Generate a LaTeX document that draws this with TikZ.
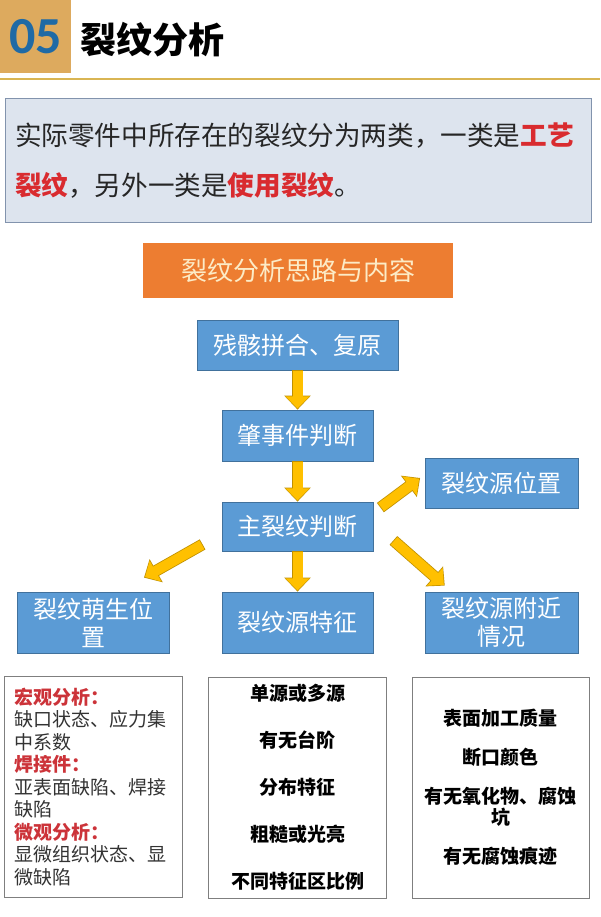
\documentclass[tikz,border=0pt]{standalone}
\usepackage{fontspec}
\setmainfont{Noto Sans CJK SC}
\newfontfamily\numfont{Carlito}
\usetikzlibrary{arrows.meta,calc}

\definecolor{goldbox}{HTML}{DDAA5E}
\definecolor{numblue}{HTML}{1F6AA5}
\definecolor{lineGold}{HTML}{D9B553}
\definecolor{introfill}{HTML}{DDE4EE}
\definecolor{introdraw}{HTML}{8293AD}
\definecolor{hired}{HTML}{D92B2F}
\definecolor{orangebox}{HTML}{ED7D31}
\definecolor{orangetext}{HTML}{FCEBC6}
\definecolor{bluebox}{HTML}{5B9BD5}
\definecolor{blueedge}{HTML}{41719C}
\definecolor{arrowfill}{HTML}{FFC000}
\definecolor{arrowedge}{HTML}{BF9000}
\definecolor{listedge}{HTML}{7F7F7F}
\definecolor{bodygray}{HTML}{333333}
\definecolor{headred}{HTML}{CC3339}

\newcommand\redword[1]{\textcolor{hired}{\bfseries #1}}
\newcommand\redhead[1]{\textcolor{headred}{\bfseries #1}}

\begin{document}
\begin{tikzpicture}[x=1pt,y=-1pt,
  stepbox/.style={draw=blueedge, fill=bluebox, text=white, line width=0.8pt,
    font=\fontsize{24}{28}\selectfont, align=center, inner sep=0pt,
    minimum width=151pt, minimum height=50pt},
  listbox/.style={draw=listedge, fill=white, line width=0.8pt,
    minimum height=221pt, inner xsep=10pt, inner ysep=0pt},
  blk/.style={arrowfill, line width=10pt,
    -{Triangle[length=12pt,width=23pt]},
    shorten >=1.2pt, shorten <=0.8pt,
    preaction={draw=arrowedge, line width=11.6pt,
      -{Triangle[length=14pt,width=25.8pt]},
      shorten >=0pt, shorten <=0pt}}
]
\useasboundingbox[fill=white] (0,0) rectangle (600,917);

% header
\node[fill=goldbox, anchor=north west, inner sep=0pt, minimum width=71pt,
  minimum height=73pt, text=numblue,
  font=\numfont\bfseries\fontsize{52}{52}\selectfont] (num) at (0,0) {05};
\node[anchor=west, inner sep=0pt, font=\bfseries\fontsize{36}{36}\selectfont]
  (title) at (80,40) {裂纹分析};
\draw[lineGold, line width=2.5pt] (0,79) -- (600,79);

% intro
\node[draw=introdraw, fill=introfill, line width=0.8pt, anchor=north west,
  inner xsep=10pt, inner ysep=0pt, text width=566pt, minimum height=124pt,
  align=left, text=black!85, font=\fontsize{26.6}{50}\selectfont]
  (intro) at (4.6,98)
  {实际零件中所存在的裂纹分为两类，一类是\redword{工艺}\\\redword{裂纹}，另外一类是\redword{使用裂纹}。};

% title bar
\node[fill=orangebox, text=orangetext, minimum width=310pt, minimum height=55pt,
  inner sep=0pt, font=\fontsize{26}{30}\selectfont] (head) at (298,270.5)
  {裂纹分析思路与内容};

% flow boxes
\node[stepbox, minimum width=201pt] (b1) at (297.5,345) {残骸拼合、复原};
\node[stepbox, minimum height=51pt] (b2) at (297.5,435.5) {肇事件判断};
\node[stepbox, minimum height=49pt] (main) at (297.5,526.5) {主裂纹判断};
\node[stepbox, minimum width=152.5pt] (pos) at (501.75,483) {裂纹源位置};
\node[stepbox, minimum width=152pt, minimum height=61pt] (lb) at (93,622.5)
  {裂纹萌生位\\置};
\node[stepbox, minimum height=61pt] (mb) at (297.5,622.5) {裂纹源特征};
\node[stepbox, minimum width=152.5pt, minimum height=61pt] (rb) at (501.75,622.5)
  {裂纹源附近\\情况};

% arrows
\draw[blk] (b1.south) -- (b2.north);
\draw[blk] (b2.south) -- (main.north);
\draw[blk] (main.south) -- (mb.north);
\draw[blk] ($(main.north east)+(7,6)$) -- ($(pos.west)+(-5,-5)$);
\draw[blk] ($(main.south west)+(-19,-7)$) -- ($(lb.north)+(51,-14)$);
\draw[blk] ($(main.south east)+(20,-11)$) -- ($(rb.north)+(-57,-6)$);

% list boxes
\node[listbox, minimum width=178pt, text width=158pt, align=left,
  text=bodygray, font=\fontsize{19}{22.5}\selectfont] (lt) at (93.5,787)
  {\redhead{宏观分析：}\\缺口状态、应力集\\中系数\\\redhead{焊接件：}\\亚表面缺陷、焊接\\缺陷\\\redhead{微观分析：}\\显微组织状态、显\\微缺陷};
\node[listbox, minimum width=178pt, text width=158pt, align=center,
  font=\bfseries\fontsize{19}{47}\selectfont] (mt) at (297.5,787.5)
  {单源或多源\\有无台阶\\分布特征\\粗糙或光亮\\不同特征区比例};
\node[listbox, minimum width=176.5pt, text width=156.5pt, align=center,
  font=\bfseries\fontsize{19}{21}\selectfont] (rt) at (500.75,787.5)
  {表面加工质量\\[18pt]断口颜色\\[18pt]有无氧化物、腐蚀\\坑\\[18pt]有无腐蚀痕迹};
\end{tikzpicture}
\end{document}
